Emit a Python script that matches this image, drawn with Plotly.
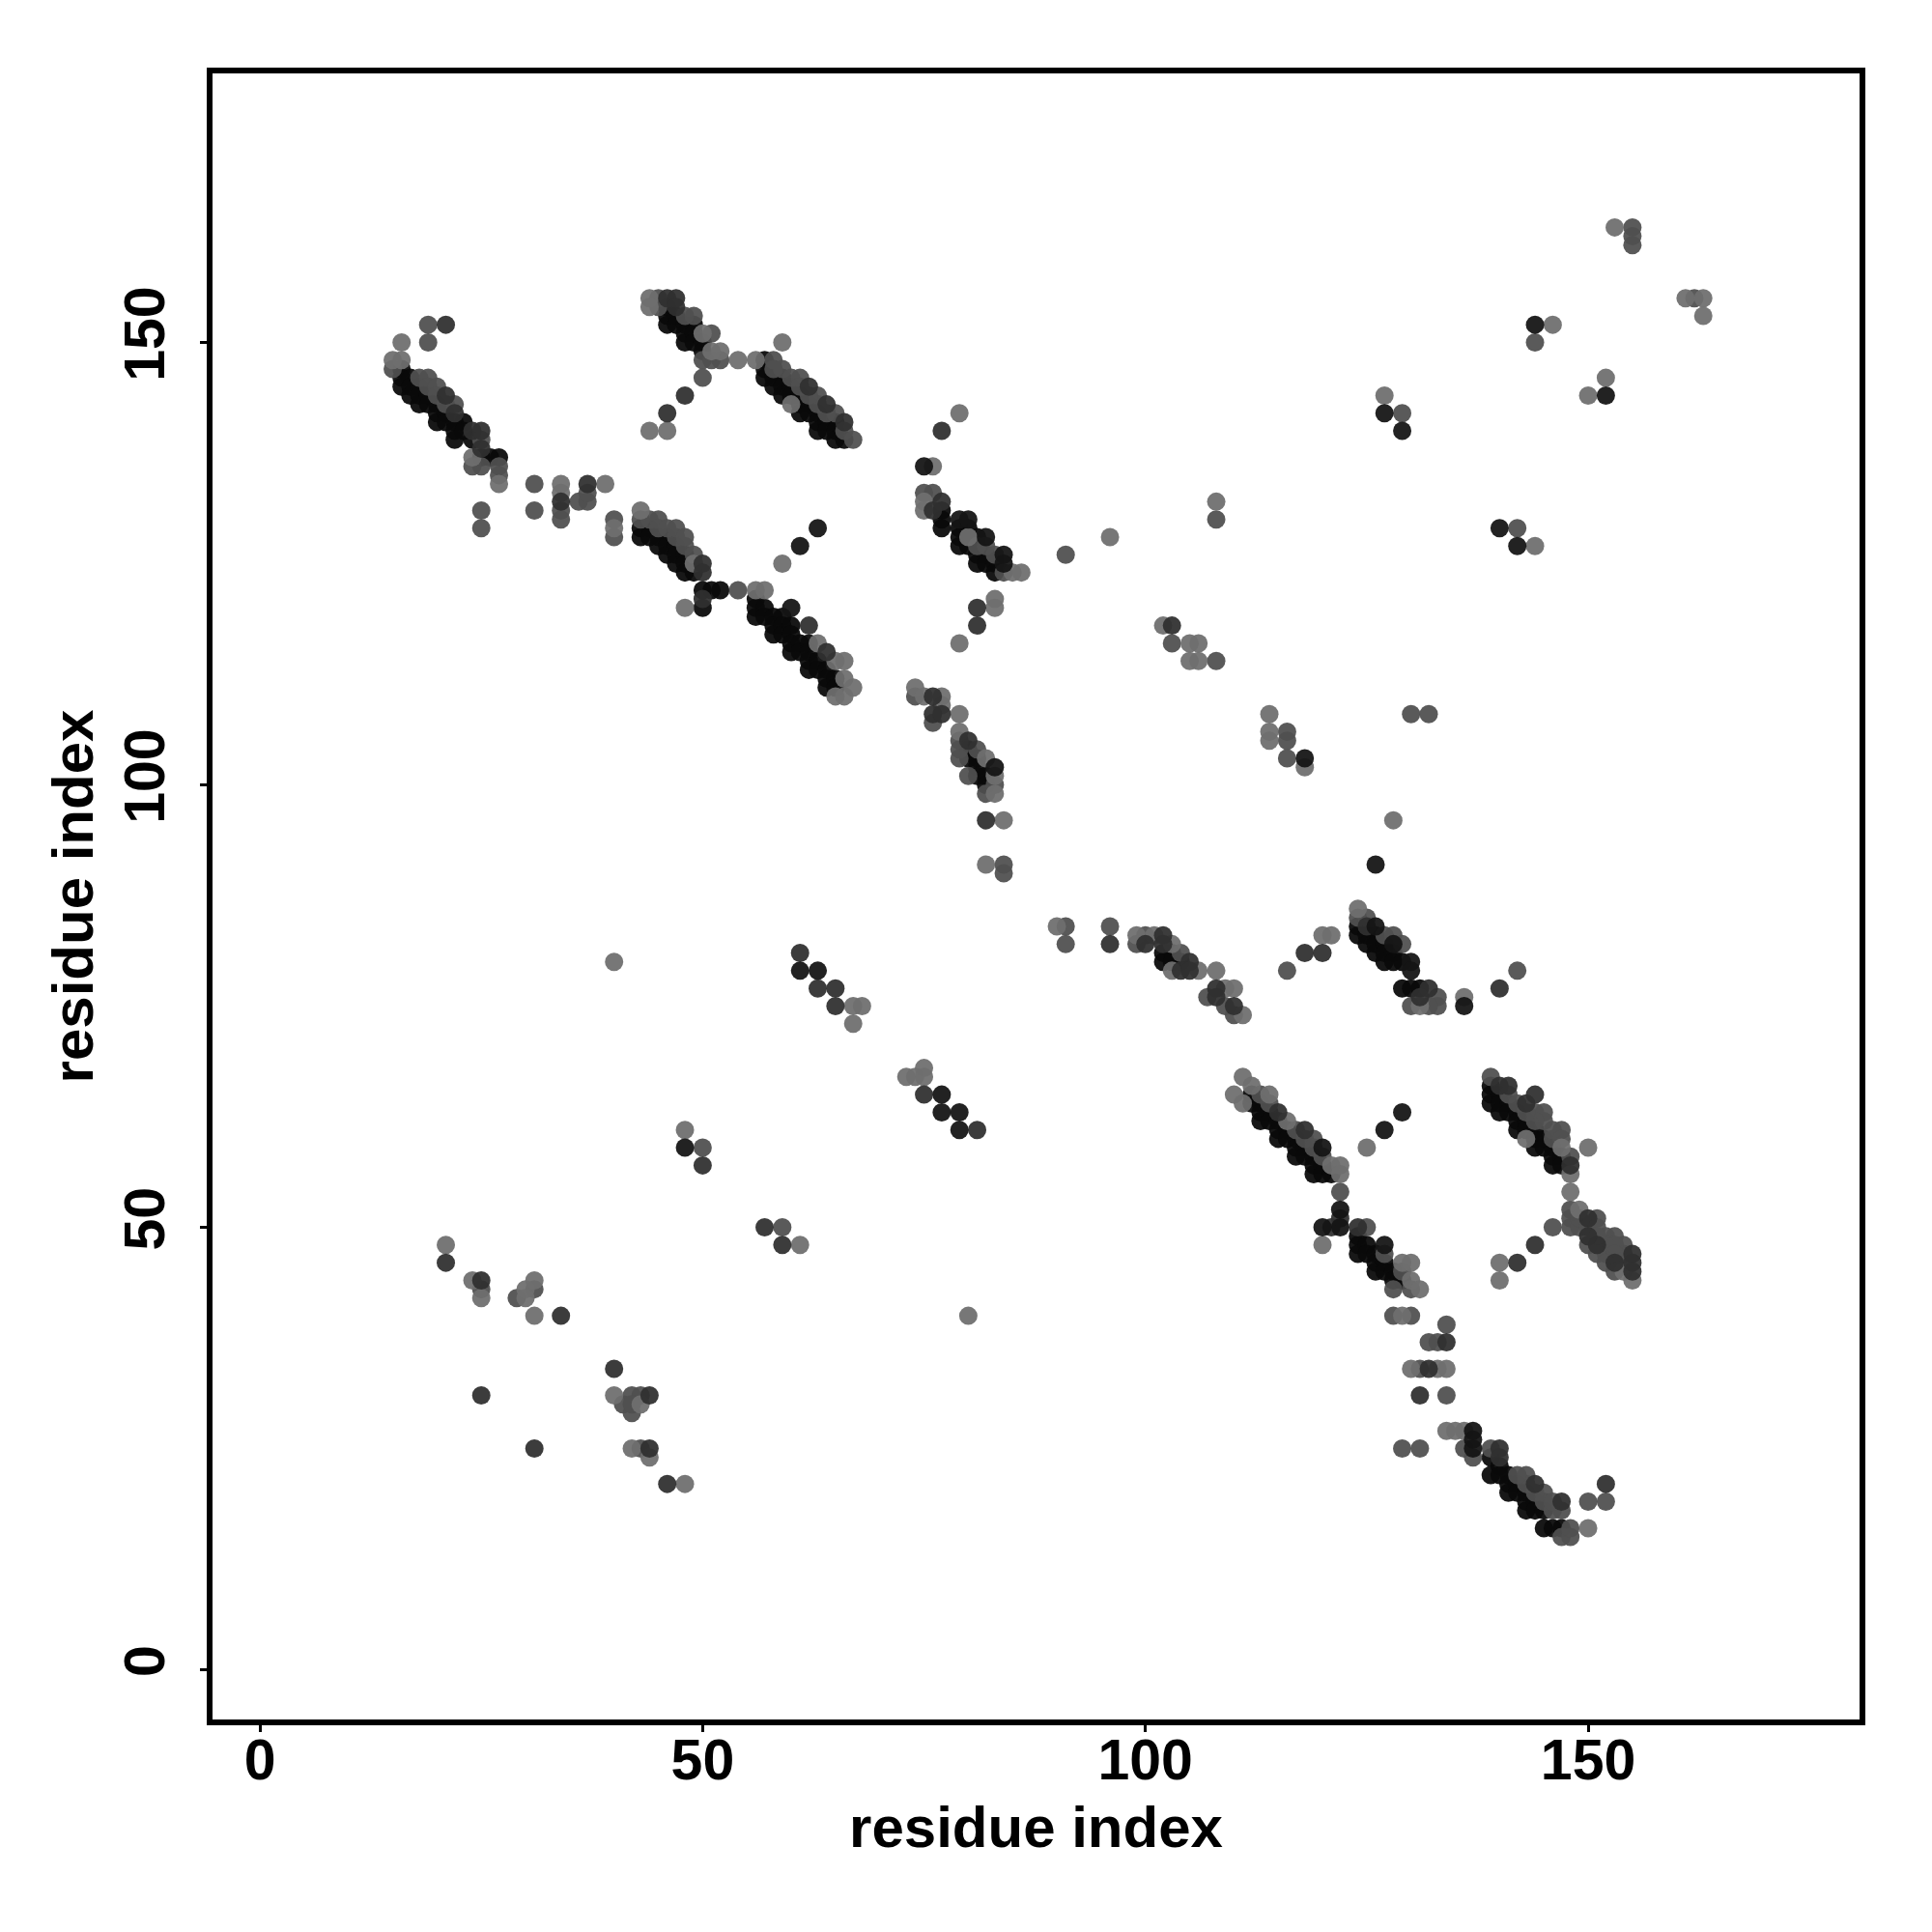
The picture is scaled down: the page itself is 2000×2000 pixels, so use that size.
import plotly.graph_objects as go

tick_values = [0, 50, 100, 150]
axis_label = "residue index"

core_points = [
 (16,147),(16,146),(16,145),(17,146),(17,145),(17,144),(18,145),(18,144),(18,143),(19,144),(19,143),(20,143),(20,142),(20,141),(21,142),(21,141),(22,141),(22,140),(22,139),(23,141),(23,140),(24,139),(25,137),(26,137),(27,137),
 (46,154),(46,153),(46,152),(47,153),(47,152),(48,152),(48,151),(48,150),(49,152),(49,151),(49,150),(50,150),(50,149),
 (57,148),(57,147),(57,146),(58,147),(58,146),(58,145),(59,146),(59,145),(59,144),(60,145),(60,144),(61,144),(61,143),(61,142),(62,143),(62,142),(63,142),(63,141),(63,140),(64,141),(64,140),(65,141),(65,140),(65,139),(66,139),
 (43,129),(43,128),(44,129),(44,128),(45,128),(45,127),(46,128),(46,127),(46,126),(47,127),(47,126),(47,125),(48,126),(48,125),(48,124),(49,125),(49,124),(50,122),(50,120),(51,122),(52,122),
 (56,121),(56,120),(56,119),(57,120),(57,119),(58,119),(58,118),(58,117),(59,119),(59,118),(59,117),(60,118),(60,117),(60,116),(60,115),(61,116),(61,115),(62,116),(62,115),(62,114),(62,113),(63,114),(63,113),(64,113),(64,112),(64,111),(65,112),(65,111),
 (77,131),(77,130),(77,129),(79,129),(79,128),(79,127),(80,129),(80,128),(80,127),(81,128),(81,127),(81,126),(81,125),(82,126),(82,125),(83,125),(83,124),
 (80,104),(80,103),(81,103),(81,102),(81,101),(82,101),(82,100),
 (102,81),(102,80),(103,81),(103,80),(104,80),
 (124,84),(124,83),(125,83),(125,82),(126,83),(126,82),(126,81),(127,82),(127,81),(127,80),(128,81),(128,80),(129,80),(129,77),(130,77),(131,77),
 (112,65),(112,64),(113,64),(113,63),(113,62),(114,63),(114,62),(115,62),(115,61),(115,60),(116,61),(116,60),(117,60),(117,59),(117,58),(118,59),(118,58),(119,58),(119,57),(119,56),(120,57),(120,56),(121,56),
 (124,49),(124,48),(124,47),(125,48),(125,47),(126,47),(126,46),(126,45),(127,46),(127,45),(128,45),(128,44),(129,44),
 (139,66),(139,65),(139,64),(140,65),(140,64),(140,63),(141,64),(141,63),(142,63),(142,62),(142,61),(143,62),(143,61),(144,61),(144,60),(144,59),(145,60),(145,59),(146,59),(146,58),(146,57),(147,58),(147,57),
 (139,24),(139,22),(140,23),(140,22),(141,22),(141,21),(141,20),(142,21),(142,20),(143,20),(143,19),(143,18),(144,19),(144,18),(145,18),(145,16),(146,16),(147,16),
]

mid_points = [
 (19,152),(19,150),(15,147),(18,146),(19,146),(19,145),(20,145),(20,144),(21,143),(22,143),(25,139),(24,136),(25,136),(27,136),(27,135),
 (25,131),(25,129),(31,134),(31,131),(34,131),(34,130),(36,132),(37,132),(37,133),(40,130),(40,128),
 (45,155),(45,154),(49,153),(48,153),(51,151),(50,148),(51,148),(52,148),(50,146),(58,148),(59,147),(60,146),(61,146),(61,145),(63,144),(63,143),(65,142),(66,140),(67,139),
 (62,144),(64,142),(58,147),
 (43,130),(44,130),(45,130),(45,129),(46,129),(47,128),(48,127),(49,126),(54,122),(47,129),(48,128),
 (75,133),(76,133),(81,127),(83,126),(82,127),(84,124),(91,126),(108,130),(103,116),(108,114),
 (74,110),(76,107),(79,105),(79,104),(79,103),(81,104),(83,100),(82,99),(80,101),
 (84,91),(84,90),(91,84),(91,82),(96,84),(100,83),(99,82),(104,81),
 (107,76),(109,75),(130,75),(133,76),(133,75),(132,75),(110,74),
 (124,85),(125,85),(127,83),(128,83),(129,82),(116,79),(142,79),(130,108),
 (113,65),(114,64),(117,61),(119,60),(122,54),(125,50),(128,43),(130,43),(129,45),(127,47),
 (118,60),(119,59),(120,58),
 (139,67),(145,62),(146,60),(147,61),(148,58),(146,50),(148,52),(148,51),(148,50),(149,50),(151,51),(153,49),(152,49),(152,48),(154,48),(154,47),(154,46),
 (141,65),(142,64),(144,63),(145,63),(146,61),(147,60),(144,62),(143,63),
 (149,51),(150,50),(151,50),(151,49),(152,47),(153,48),(153,47),(150,48),(151,47),(152,46),(153,45),
 (128,40),(130,40),(134,39),(132,37),(133,37),(131,34),(134,31),(129,25),(131,25),(136,25),(137,24),(139,25),
 (143,22),(143,21),(145,20),(145,19),(146,18),(147,18),(147,15),(148,15),(148,16),(150,19),(152,19),
 (142,22),(144,20),(146,19),
 (155,163),(155,162),(155,161),(162,155),(144,150),(129,142),(142,129),(116,106),(116,105),(116,103),(132,108),
 (25,43),(29,42),(31,43),(41,30),(42,29),(42,31),(43,31),(43,25),(42,30),(59,50),(50,59),
]

light_points = [
 (16,150),(15,148),(16,148),(24,137),(27,134),
 (34,134),(34,133),(39,134),(40,129),
 (44,155),(44,154),(50,151),(52,149),(51,149),(54,148),(56,148),(59,150),(44,140),(46,140),(60,143),
 (43,131),(49,125),(48,120),(56,122),(57,122),(59,125),
 (63,116),(65,114),(66,114),(66,112),(67,111),(65,110),(66,110),
 (75,132),(75,131),(85,124),(86,124),(80,128),(83,121),(83,120),(79,116),(96,128),(76,136),
 (74,111),(75,110),(77,110),(77,109),(79,108),(79,106),(82,103),(83,101),(83,99),(84,96),(82,91),(90,84),
 (99,83),(101,83),(103,82),(106,79),(103,79),(108,79),(109,77),(110,77),(111,74),
 (124,86),(120,83),(121,83),(136,76),(131,75),
 (110,65),(111,67),(112,66),(111,64),(114,65),(116,62),(121,57),(122,57),(122,56),(120,48),(125,59),(129,46),(130,46),(130,44),(131,43),
 (143,60),(147,59),(148,56),(148,54),(150,59),(140,46),(140,44),(149,52),(155,44),(154,45),
 (129,40),(130,34),(133,34),(134,34),(134,27),(135,27),(136,27),(150,16),
 (153,163),(161,155),(163,155),(163,153),(146,152),(144,127),(152,146),(150,144),(127,144),(79,142),(108,132),
 (102,118),(105,116),(106,116),(105,114),(106,114),(114,108),(114,106),(114,105),(118,102),(128,96),
 (21,48),(24,44),(25,42),(30,43),(31,44),(30,42),(31,40),(40,31),(43,30),(42,25),(44,24),(48,21),(48,61),(61,48),(40,80),(80,40),
 (67,75),(68,75),(67,73),(73,67),(74,67),(75,68),(75,67),
]

dark_points = [
 (21,152),(21,144),(22,142),(24,140),(25,140),(25,138),
 (34,132),(37,134),
 (46,155),(47,155),(47,154),(48,144),(46,142),(62,145),(64,143),(66,141),
 (50,125),(50,124),(50,121),(62,118),(64,115),
 (77,132),(76,131),(76,110),(76,108),(77,108),(80,105),(82,96),(81,120),(81,118),(77,140),
 (96,82),(100,82),(102,83),(102,82),(105,80),(104,79),(105,79),(108,77),(108,76),(110,75),
 (118,81),(120,81),(132,77),(131,76),(140,77),(125,84),
 (115,63),(118,61),(121,50),(122,51),(124,50),(140,66),(141,66),(143,64),(144,65),
 (144,48),(142,46),(150,51),(151,48),(153,46),(155,47),(155,46),(155,45),(150,49),(148,57),
 (134,37),(132,34),(131,31),(140,25),(140,24),(144,21),(147,19),(152,21),
 (103,118),
 (25,44),(25,31),(31,25),(34,40),(40,34),(44,31),(44,25),(46,21),(50,57),(57,50),(59,48),
 (61,81),(63,77),(65,77),(65,75),(75,65),(81,61),(21,46),
]

black_points = [
 (60,120),(61,127),(63,129),(79,130),(80,130),(82,128),(84,126),(84,125),(83,102),
 (126,84),(128,82),(130,80),(130,79),(136,75),(75,136),(126,91),
 (120,59),(127,61),(129,63),(122,52),(122,50),(120,50),(127,48),
 (137,27),(137,26),(137,25),(144,152),(152,144),(127,142),(129,140),(140,129),(142,127),(118,103),
 (61,79),(63,79),(77,65),(77,63),(79,63),(79,61),(48,59),
]

groups = [(core_points, "#0a0a0a"), (mid_points, "#505050"), (light_points, "#6e6e6e"),
          (dark_points, "#303030"), (black_points, "#141414")]

fig = go.Figure()
for pts, col in groups:
    fig.add_trace(go.Scatter(x=[p[0] for p in pts], y=[p[1] for p in pts], mode="markers",
                             marker=dict(size=19, color=col, opacity=0.94, line=dict(width=0)),
                             showlegend=False, hoverinfo="skip"))

tick_font = dict(family="Liberation Sans", size=59, color="black", weight="bold")
title_font = dict(family="Liberation Sans", size=60, color="black", weight="bold")
common = dict(tickvals=tick_values, ticktext=[str(v) for v in tick_values], ticks="outside", ticklen=7,
              tickwidth=2.5, tickcolor="black", showgrid=False, zeroline=False, showline=True,
              linewidth=5.5, linecolor="black", mirror=True, tickfont=tick_font)
fig.update_xaxes(range=[-5.35, 180.65], ticklabelstandoff=-22,
                 title=dict(text=axis_label, font=title_font, standoff=18), **common)
fig.update_yaxes(range=[-5.62, 180.4], tickangle=-90, ticklabelstandoff=14,
                 title=dict(text=axis_label, font=title_font, standoff=3), **common)
fig.update_layout(width=2000, height=2000, autosize=False, plot_bgcolor="white", paper_bgcolor="white",
                  margin=dict(l=212, r=83, t=68, b=228, pad=0))
fig.write_html("out.html")
